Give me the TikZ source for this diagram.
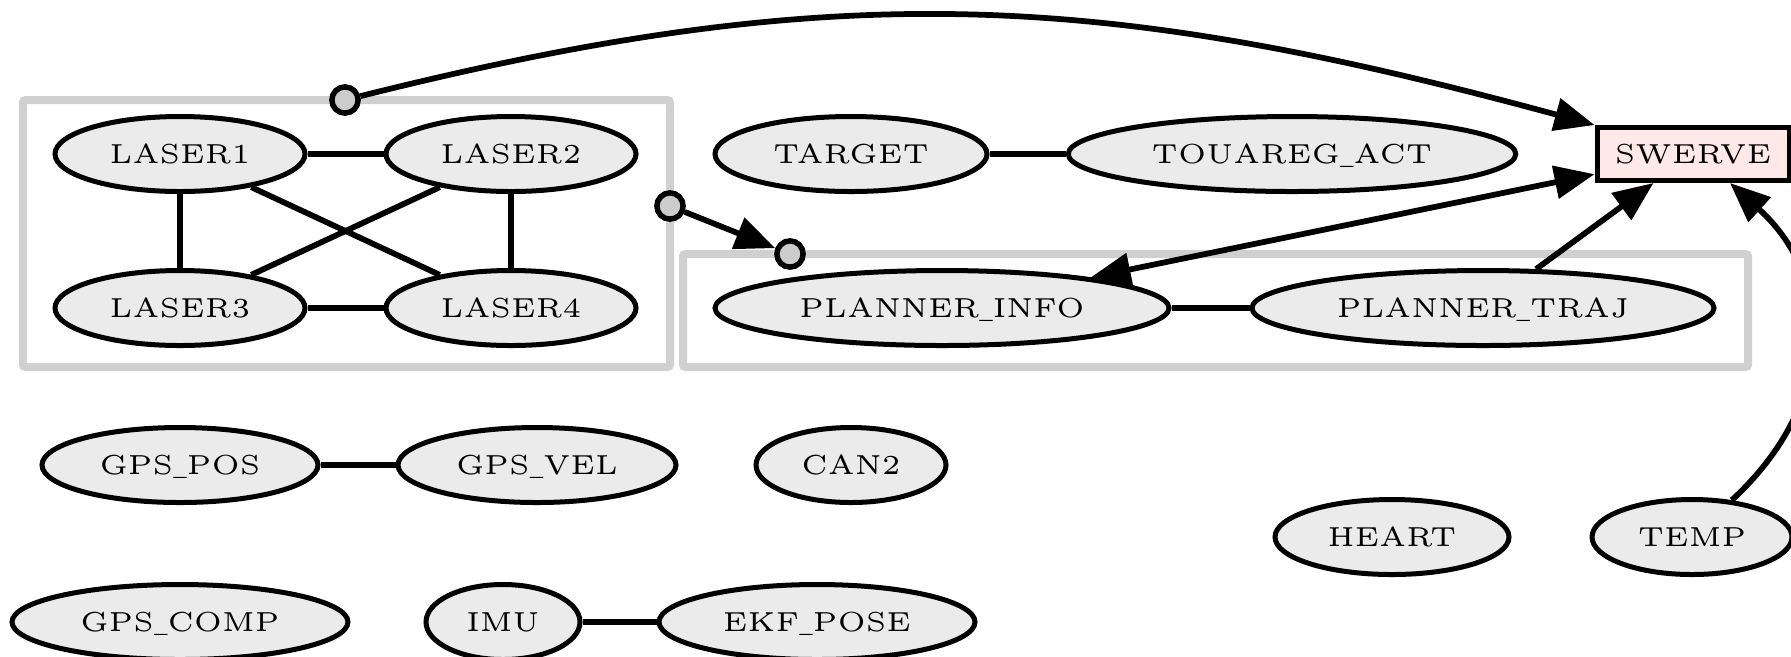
\documentclass[tikz,border=0pt]{standalone}
\usetikzlibrary{shapes.geometric,arrows.meta}
\definecolor{ndfill}{HTML}{EBEBEB}
\definecolor{clgrey}{HTML}{D0D0D0}
\definecolor{swfill}{HTML}{FFE8E8}
\definecolor{dotfill}{HTML}{CCCCCC}
% labels: small optical size of Latin Modern, enlarged
\newcommand\lbl[1]{\scalebox{2.2}{\fontsize{5}{6}\selectfont #1}}
\newcommand\us{\scalebox{0.5}[1]{\_}}
\begin{document}
\begin{tikzpicture}[x=0.4pt,y=-0.4pt,
  nd/.style={ellipse, draw, line width=2pt, fill=ndfill, inner sep=0pt,
    minimum height=30pt, text height=7.5pt, text depth=0pt},
  boxnd/.style={rectangle, draw, line width=2pt, fill=swfill, inner sep=0pt,
    minimum width=76.8pt, minimum height=21.2pt, text height=7.5pt, text depth=0pt},
  cluster/.style={rectangle, draw=clgrey, line width=3.2pt, rounded corners=1pt, inner sep=0pt},
  link/.style={line width=2.3pt},
  arr/.style={link, -{Triangle[length=16pt,width=13pt]}},
  biarr/.style={link, {Triangle[length=16pt,width=13pt]}-{Triangle[length=16pt,width=13pt]}},
  port/.style={circle, draw, line width=2.2pt, fill=dotfill, inner sep=0pt, minimum size=10.5pt}
]
\useasboundingbox (0,0) rectangle (1791,656);

% clusters
\node[cluster, minimum width=258.8pt, minimum height=106.8pt] (lasers) at (346.5,233.5) {};
\node[cluster, minimum width=426pt, minimum height=45.2pt] (planner) at (1215.5,310.5) {};

% nodes
\node[nd, minimum width=100pt] (l1) at (180,154) {\lbl{LASER1}};
\node[nd, minimum width=100pt] (l2) at (511,154) {\lbl{LASER2}};
\node[nd, minimum width=100pt] (l3) at (180,308) {\lbl{LASER3}};
\node[nd, minimum width=100pt] (l4) at (511,308) {\lbl{LASER4}};
\node[nd, minimum width=108.8pt] (target) at (851,154) {\lbl{TARGET}};
\node[nd, minimum width=179pt] (touareg) at (1292,154) {\lbl{TOUAREG\us ACT}};
\node[boxnd] (sw) at (1693,154) {\lbl{SWERVE}};
\node[nd, minimum width=181.6pt] (pinfo) at (942,308) {\lbl{PLANNER\us INFO}};
\node[nd, minimum width=184.8pt] (ptraj) at (1483,308) {\lbl{PLANNER\us TRAJ}};
\node[nd, minimum width=110.4pt] (gpspos) at (180,465) {\lbl{GPS\us POS}};
\node[nd, minimum width=111.2pt] (gpsvel) at (537,465) {\lbl{GPS\us VEL}};
\node[nd, minimum width=76pt] (can2) at (851,465) {\lbl{CAN2}};
\node[nd, minimum width=93.6pt] (heart) at (1392,537) {\lbl{HEART}};
\node[nd, minimum width=80pt] (temp) at (1692,537) {\lbl{TEMP}};
\node[nd, minimum width=134.4pt] (gpscomp) at (180,622) {\lbl{GPS\us COMP}};
\node[nd, minimum width=61.6pt] (imu) at (503,622) {\lbl{IMU}};
\node[nd, minimum width=126.4pt] (ekf) at (817,622) {\lbl{EKF\us POSE}};

% undirected links
\draw[link] (l1) -- (l2);
\draw[link] (l1) -- (l3);
\draw[link] (l1) -- (l4);
\draw[link] (l2) -- (l3);
\draw[link] (l2) -- (l4);
\draw[link] (l3) -- (l4);
\draw[link] (target) -- (touareg);
\draw[link] (pinfo) -- (ptraj);
\draw[link] (gpspos) -- (gpsvel);
\draw[link] (imu) -- (ekf);

% cluster ports
\node[port] (pa) at (345,100) {};
\node[port] (pb) at (670,206) {};
\node[port] (pc) at (790,254) {};

% directed edges
\draw[arr] (pa) .. controls (839,-24) and (1105,-8) .. (sw.north west);
\draw[arr] (pb) -- (pc);
\draw[biarr] (pinfo) -- (sw);
\draw[arr] (ptraj) -- (sw);
\draw[arr] (temp) .. controls (1840,400) and (1834,277) .. ([xshift=14.8pt]sw.south);
\end{tikzpicture}
\end{document}
